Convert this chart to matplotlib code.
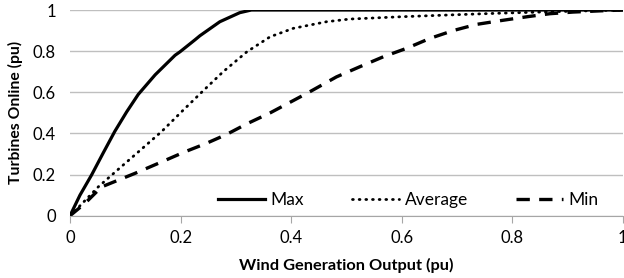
import matplotlib.pyplot as plt

# Dane
max_x = [0, 0.018, 0.039, 0.06, 0.081, 0.1025, 0.1235, 0.154, 0.19, 0.199, 0.226, 0.235,
         0.271, 0.307, 0.328, 0.4, 0.6, 0.8, 1.0]
max_y = [0, 0.10, 0.198, 0.305, 0.41, 0.505, 0.59, 0.685, 0.78, 0.797, 0.855, 0.875,
         0.943, 0.987, 1.0, 1.0, 1.0, 1.0, 1.0]

avg_x = [0, 0.015, 0.051, 0.087, 0.1235, 0.166, 0.202, 0.238, 0.277, 0.32, 0.362, 0.404,
         0.464, 0.506, 0.597, 0.687, 0.772, 0.85, 0.92, 1.0]
avg_y = [0, 0.04, 0.14, 0.225, 0.31, 0.41, 0.506, 0.6, 0.70, 0.797, 0.87, 0.911,
         0.943, 0.956, 0.967, 0.976, 0.984, 0.99, 0.995, 1.0]

min_x = [0, 0.027, 0.057, 0.1175, 0.16, 0.208, 0.245, 0.283, 0.32, 0.362, 0.404, 0.434,
         0.482, 0.524, 0.567, 0.609, 0.651, 0.693, 0.735, 0.778, 0.826, 0.868, 0.91, 0.96, 1.0]
min_y = [0, 0.06, 0.14, 0.206, 0.255, 0.311, 0.35, 0.395, 0.447, 0.5, 0.56, 0.603,
         0.675, 0.724, 0.773, 0.814, 0.862, 0.9, 0.93, 0.948, 0.967, 0.982, 0.99, 0.996, 1.0]

xticks = [0, 0.2, 0.4, 0.6, 0.8, 1]
yticks = [0, 0.2, 0.4, 0.6, 0.8, 1]
tick_labels = ['0', '0.2', '0.4', '0.6', '0.8', '1']

plt.rcParams['font.family'] = ['Lato', 'DejaVu Sans']

fig = plt.figure(figsize=(6.24, 2.78), dpi=100)
ax = fig.add_axes([0.1122, 0.224, 0.886, 0.740])

ax.plot(max_x, max_y, color='black', lw=2.3, label='Max', solid_joinstyle='round')
ax.plot(avg_x, avg_y, color='black', lw=2.0, linestyle=(0, (0.3, 2.1)),
        dash_capstyle='round', label='Average')
ax.plot(min_x, min_y, color='black', lw=2.4, linestyle=(0, (4, 2.8)), label='Min')

ax.set_xlim(0, 1)
ax.set_ylim(0, 1)
ax.set_xticks(xticks)
ax.set_xticklabels(tick_labels)
ax.set_yticks(yticks)
ax.set_yticklabels(tick_labels)
ax.tick_params(axis='x', length=5, color='#a6a6a6', labelsize=12, pad=5)
ax.tick_params(axis='y', length=0, labelsize=12, pad=10)
ax.grid(True, axis='y', color='#bfbfbf', lw=1)
ax.set_axisbelow(True)
for s in ['top', 'right', 'left']:
    ax.spines[s].set_visible(False)
ax.spines['bottom'].set_color('#a6a6a6')

ax.set_xlabel('Wind Generation Output (pu)', fontsize=11.8, fontweight='bold', labelpad=9)
ax.set_ylabel('Turbines Online (pu)', fontsize=11.3, fontweight='bold', labelpad=7)

ax.legend(loc='center left', bbox_to_anchor=(0.268, 0.076), ncol=3, frameon=False,
          fontsize=12.5, handlelength=2.7, columnspacing=2.8, handletextpad=0.3,
          borderpad=0, borderaxespad=0)

plt.savefig('out.png', dpi=100)
plt.close()
